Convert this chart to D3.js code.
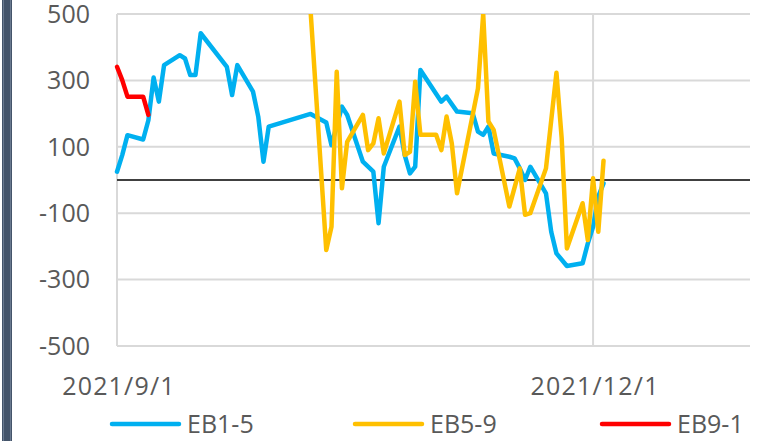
<!DOCTYPE html>
<html>
<head>
<meta charset="utf-8">
<script src="https://cdn.jsdelivr.net/npm/d3@7"></script>
<style>
  html, body { margin: 0; padding: 0; background: #fff; }
  svg { display: block; }
  text { font-family: "Open Sans", "Liberation Sans", sans-serif; fill: #595959; }
</style>
</head>
<body>
<div id="chart"></div>
<script>
// Spread series, Sep-Dec 2021

const seriesNames = ['EB1-5', 'EB5-9', 'EB9-1'];
const seriesColors = ['#00B0F0', '#FFC000', '#FF0000'];

const eb15Dates = ['2021-09-01','2021-09-02','2021-09-03','2021-09-06','2021-09-07','2021-09-08','2021-09-09','2021-09-10',
    '2021-09-13','2021-09-14','2021-09-15','2021-09-16','2021-09-17','2021-09-22','2021-09-23','2021-09-24',
    '2021-09-27','2021-09-28','2021-09-29','2021-09-30','2021-10-08','2021-10-11','2021-10-12','2021-10-14',
    '2021-10-15','2021-10-18','2021-10-20','2021-10-21','2021-10-22','2021-10-25','2021-10-26','2021-10-27',
    '2021-10-28','2021-10-29','2021-11-02','2021-11-03','2021-11-05','2021-11-08','2021-11-09','2021-11-10',
    '2021-11-11','2021-11-12','2021-11-15','2021-11-16','2021-11-17','2021-11-18','2021-11-19','2021-11-22',
    '2021-11-23','2021-11-24','2021-11-26','2021-11-29','2021-11-30','2021-12-01','2021-12-02','2021-12-03'];
const eb15Values = [25, 75, 135, 122, 180, 309, 236, 346,
    376, 366, 316, 316, 442, 341, 256, 346,
    266, 191, 55, 161, 199, 173, 105, 221,
    196, 55, 25, -130, 40, 161, 75, 20,
    40, 331, 236, 251, 206, 201, 146, 136,
    161, 80, 70, 65, 35, 0, 40, -40,
    -156, -221, -259, -251, -191, -141, -50, -10];

const eb59Dates = ['2021-10-08','2021-10-11','2021-10-12','2021-10-13','2021-10-14','2021-10-15','2021-10-18','2021-10-19',
    '2021-10-20','2021-10-21','2021-10-22','2021-10-25','2021-10-26','2021-10-27','2021-10-28','2021-10-29',
    '2021-11-01','2021-11-02','2021-11-03','2021-11-04','2021-11-05','2021-11-09','2021-11-10','2021-11-11',
    '2021-11-12','2021-11-15','2021-11-17','2021-11-18','2021-11-19','2021-11-22','2021-11-24','2021-11-25',
    '2021-11-26','2021-11-29','2021-11-30','2021-12-01','2021-12-02','2021-12-03'];
const eb59Values = [510, -211, -141, 326, -25, 115, 196, 90,
    110, 186, 80, 236, 75, 85, 296, 136,
    136, 90, 191, 110, -40, 276, 500, 176,
    151, -80, 35, -105, -100, 35, 323, 126,
    -206, -70, -181, 5, -156, 58];

const eb91Dates = ['2021-09-01','2021-09-02','2021-09-03','2021-09-06','2021-09-07'];
const eb91Values = [341, 301, 251, 251, 196];

const yTicks = [500, 300, 100, -100, -300, -500];
const xTicks = ['2021-09-01', '2021-12-01'];
const xTickLabels = ['2021/9/1', '2021/12/1'];

const width = 772, height = 441;
const plot = { left: 117, right: 750, top: 14, bottom: 346 };

const parse = d3.timeParse('%Y-%m-%d');
const x = d3.scaleTime()
    .domain([parse('2021-09-01'), parse('2021-12-31')])
    .range([plot.left, plot.right]);
const y = d3.scaleLinear()
    .domain([-500, 500])
    .range([plot.bottom, plot.top]);

const svg = d3.select('#chart').append('svg')
    .attr('width', width)
    .attr('height', height);

// dark strip on the left edge
svg.append('rect').attr('x', 2).attr('y', 0).attr('width', 10).attr('height', height).attr('fill', '#44546A');
svg.append('rect').attr('x', 3).attr('y', 0).attr('width', 1).attr('height', height).attr('fill', '#6A7A90');
svg.append('rect').attr('x', 10).attr('y', 0).attr('width', 1).attr('height', height).attr('fill', '#6A7A90');

// horizontal gridlines
svg.append('g')
    .selectAll('line')
    .data(yTicks)
    .join('line')
    .attr('x1', plot.left)
    .attr('x2', plot.right)
    .attr('y1', d => y(d))
    .attr('y2', d => y(d))
    .attr('stroke', '#D9D9D9')
    .attr('stroke-width', 2);

// vertical gridlines
svg.append('g')
    .selectAll('line')
    .data(xTicks)
    .join('line')
    .attr('x1', d => x(parse(d)))
    .attr('x2', d => x(parse(d)))
    .attr('y1', plot.top)
    .attr('y2', plot.bottom)
    .attr('stroke', '#D9D9D9')
    .attr('stroke-width', 2);

// zero line
svg.append('line')
    .attr('x1', plot.left)
    .attr('x2', plot.right)
    .attr('y1', y(0))
    .attr('y2', y(0))
    .attr('stroke', '#404040')
    .attr('stroke-width', 2);

// y labels
svg.append('g')
    .selectAll('text')
    .data(yTicks)
    .join('text')
    .attr('x', 90)
    .attr('y', d => y(d))
    .attr('dy', '0.35em')
    .attr('text-anchor', 'end')
    .attr('font-size', '25px')
    .text(d => d);

// x labels
svg.append('g')
    .selectAll('text')
    .data(xTicks)
    .join('text')
    .attr('x', d => x(parse(d)) + 2)
    .attr('y', 395)
    .attr('text-anchor', 'middle')
    .attr('font-size', '25px')
    .attr('letter-spacing', '1.2px')
    .text((d, i) => xTickLabels[i]);

// lines, clipped to plot area
svg.append('clipPath')
    .attr('id', 'plot-clip')
    .append('rect')
    .attr('x', plot.left - 4)
    .attr('y', plot.top)
    .attr('width', plot.right - plot.left + 8)
    .attr('height', plot.bottom - plot.top);

const seriesData = [
    eb15Dates.map((d, i) => ({ date: parse(d), value: eb15Values[i] })),
    eb59Dates.map((d, i) => ({ date: parse(d), value: eb59Values[i] })),
    eb91Dates.map((d, i) => ({ date: parse(d), value: eb91Values[i] }))
];

const line = d3.line()
    .x(d => x(d.date))
    .y(d => y(d.value));

svg.append('g')
    .attr('clip-path', 'url(#plot-clip)')
    .selectAll('path')
    .data(seriesData)
    .join('path')
    .attr('d', line)
    .attr('fill', 'none')
    .attr('stroke', (d, i) => seriesColors[i])
    .attr('stroke-width', 4.5)
    .attr('stroke-linejoin', 'round')
    .attr('stroke-linecap', 'round');

// legend
const legendX = [112, 355, 602];
const legend = svg.append('g')
    .selectAll('g')
    .data(seriesNames)
    .join('g')
    .attr('transform', (d, i) => `translate(${legendX[i]},424)`);

legend.append('line')
    .attr('x1', 0)
    .attr('x2', 67)
    .attr('stroke', (d, i) => seriesColors[i])
    .attr('stroke-width', 4.5)
    .attr('stroke-linecap', 'round');

legend.append('text')
    .attr('x', 75)
    .attr('y', 0)
    .attr('dy', '0.35em')
    .attr('font-size', '25px')
    .text(d => d);
</script>
</body>
</html>
